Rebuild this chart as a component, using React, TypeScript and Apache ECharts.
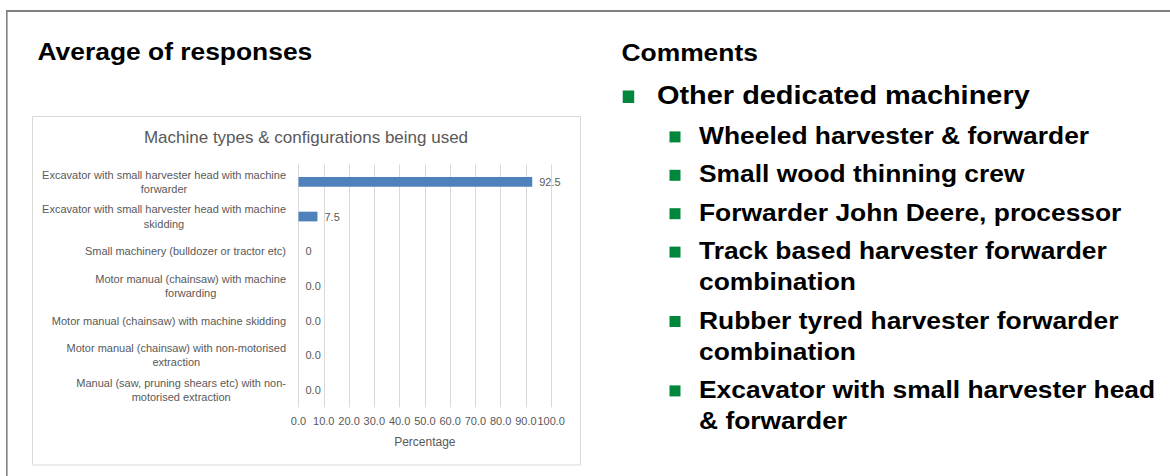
import React, { useEffect, useRef } from "react";
import * as echarts from "echarts";

const categories = [
  "Excavator with small harvester head with machine\nforwarder",
  "Excavator with small harvester head with machine\nskidding",
  "Small machinery (bulldozer or tractor etc)",
  "Motor manual (chainsaw) with machine\nforwarding",
  "Motor manual (chainsaw) with machine skidding",
  "Motor manual (chainsaw) with non-motorised\nextraction",
  "Manual (saw, pruning shears etc) with non-\nmotorised extraction",
];
const percentages = [92.5, 7.5, 0, 0, 0, 0, 0];
const valueLabels = ["92.5", "7.5", "0", "0.0", "0.0", "0.0", "0.0"];
const axisMin = 0;
const axisMax = 100;
const axisStep = 10;

const chartTitle = "Machine types & configurations being used";
const axisName = "Percentage";
const leftHeading = "Average of responses";
const rightHeading = "Comments";
const topComment = "Other dedicated machinery";
const subComments: string[][] = [
  ["Wheeled harvester & forwarder"],
  ["Small wood thinning crew"],
  ["Forwarder John Deere, processor"],
  ["Track based harvester forwarder", "combination"],
  ["Rubber tyred harvester forwarder", "combination"],
  ["Excavator with small harvester head", "& forwarder"],
];

const W = 1170;
const H = 476;
const FONT = "'Liberation Sans', Arial, sans-serif";
const GREEN = "#00873C";
const GREY = "#595959";

function buildGraphics() {
  const els: any[] = [];
  // slide frame
  els.push({ type: "rect", shape: { x: 6, y: 10, width: W - 6, height: 2 }, style: { fill: "#808080" }, silent: true });
  els.push({ type: "rect", shape: { x: 6, y: 10, width: 1.6, height: H - 10 }, style: { fill: "#808080" }, silent: true });
  // chart box
  els.push({
    type: "rect",
    shape: { x: 32.5, y: 116.5, width: 548, height: 348.5 },
    style: { fill: "none", stroke: "#d9d9d9", lineWidth: 1 },
    silent: true,
  });
  const headingText = (text: string, x: number, y: number) => ({
    type: "text",
    x,
    y,
    scaleX: 1.1,
    style: {
      text,
      fontSize: 24,
      fontWeight: "bold",
      fontFamily: FONT,
      fill: "#000",
      align: "left",
      verticalAlign: "middle",
    },
  });
  els.push(headingText(leftHeading, 37.5, 51));
  els.push(headingText(rightHeading, 621.5, 52));
  // chart title
  els.push({
    type: "text",
    x: 306,
    y: 137,
    style: {
      text: chartTitle,
      fontSize: 17,
      fontFamily: FONT,
      fill: GREY,
      align: "center",
      verticalAlign: "middle",
    },
  });
  // top bullet
  els.push({ type: "rect", shape: { x: 622.7, y: 90.5, width: 11.5, height: 12.5 }, style: { fill: GREEN } });
  els.push({
    type: "text",
    x: 657,
    y: 94.5,
    scaleX: 1.1,
    style: {
      text: topComment,
      fontSize: 26.3,
      fontWeight: "bold",
      fontFamily: FONT,
      fill: "#000",
      align: "left",
      verticalAlign: "middle",
    },
  });
  let y = 135.4;
  subComments.forEach((lines) => {
    els.push({ type: "rect", shape: { x: 669.5, y: y + 1.5 - 5.5, width: 11, height: 11 }, style: { fill: GREEN } });
    lines.forEach((line, i) => {
      els.push({
        type: "text",
        x: 699,
        y: y + i * 31,
        scaleX: 1.1,
        style: {
          text: line,
          fontSize: 24,
          fontWeight: "bold",
          fontFamily: FONT,
          fill: "#000",
          align: "left",
          verticalAlign: "middle",
        },
      });
    });
    y += 38.4 + 31 * (lines.length - 1);
  });
  return els;
}

export default function App() {
  const ref = useRef<HTMLDivElement>(null);
  useEffect(() => {
    document.body.style.margin = "0";
    if (!ref.current) return;
    const chart = echarts.init(ref.current, undefined, { renderer: "svg" });
    chart.setOption({
      animation: false,
      backgroundColor: "#ffffff",
      textStyle: { fontFamily: FONT },
      grid: {
        left: 298.5,
        top: 164.5,
        right: W - 551.2,
        bottom: H - 407.3,
        containLabel: false,
        outerBoundsMode: "none",
      },
      xAxis: {
        type: "value",
        min: axisMin,
        max: axisMax,
        interval: axisStep,
        axisLine: { show: false },
        axisTick: { show: false },
        splitLine: { show: true, lineStyle: { color: "#d9d9d9", width: 1 } },
        axisLabel: {
          formatter: (v: number) => v.toFixed(1),
          fontSize: 11,
          color: GREY,
          margin: 8.5,
          fontFamily: FONT,
          hideOverlap: false,
        },
        name: axisName,
        nameLocation: "middle",
        nameGap: 29,
        nameTextStyle: { fontSize: 12, color: GREY, fontFamily: FONT },
      },
      yAxis: {
        type: "category",
        inverse: true,
        data: categories,
        axisLine: { show: false },
        axisTick: { show: false },
        splitLine: { show: false },
        axisLabel: {
          interval: 0,
          margin: 12.5,
          formatter: (v: string) =>
            v
              .split("\n")
              .map((l) => `{c|${l}}`)
              .join("\n"),
          rich: {
            c: { align: "center", fontSize: 11, lineHeight: 14.3, color: GREY, fontFamily: FONT },
          },
        },
      },
      series: [
        {
          type: "bar",
          data: percentages,
          barCategoryGap: "72%",
          itemStyle: { color: "#4F81BD" },
          label: {
            show: true,
            position: "right",
            distance: 7,
            formatter: (p: any) => valueLabels[p.dataIndex],
            fontSize: 11,
            color: GREY,
            fontFamily: FONT,
          },
        },
      ],
      graphic: { elements: buildGraphics() },
    });
    return () => chart.dispose();
  }, []);
  return <div ref={ref} style={{ width: W, height: H }} />;
}
